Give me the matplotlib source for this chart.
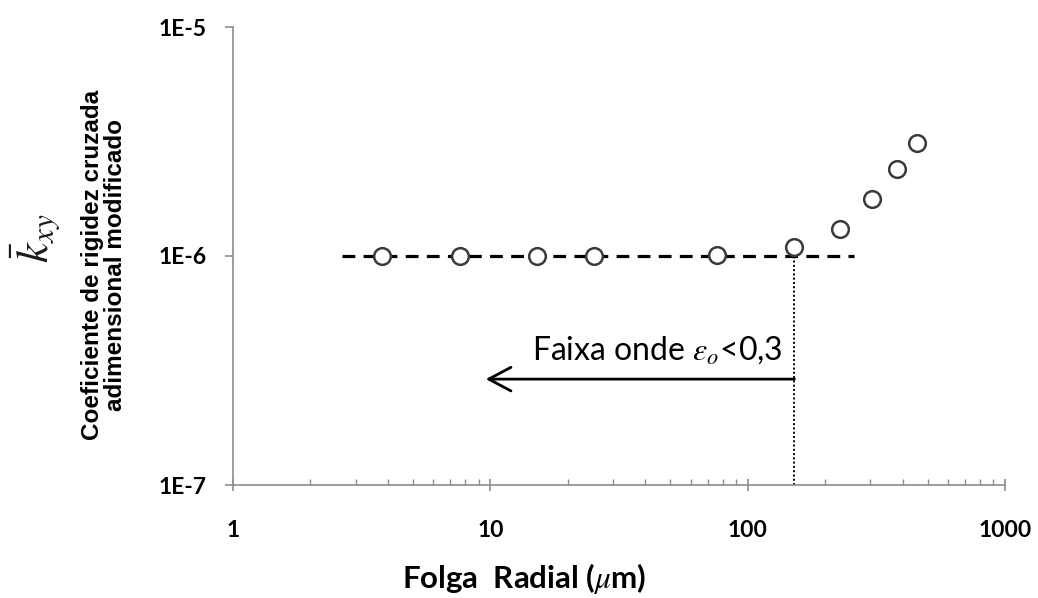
import matplotlib
matplotlib.use("Agg")
import matplotlib.pyplot as plt
from matplotlib.ticker import LogLocator, FixedLocator, NullFormatter

# Data
folga_um = [3.8, 7.6, 15.2, 25.3, 76, 152, 228, 304, 380, 456]
kxy = [1.0e-6, 1.0e-6, 1.0e-6, 1.0e-6, 1.01e-6, 1.1e-6, 1.31e-6, 1.77e-6, 2.4e-6, 3.1e-6]
trend_x = [2.65, 260]
trend_y = [1.0e-6, 1.0e-6]
limite_x = 152
arrow_y = 2.9e-7
arrow_end_x = 9.6
x_ticks = [1, 10, 100, 1000]
x_ticklabels = ["1", "10", "100", "1000"]
y_ticks = [1e-7, 1e-6, 1e-5]
y_ticklabels = ["1E-7", "1E-6", "1E-5"]

fig = plt.figure(figsize=(10.38, 5.98), dpi=100)
ax = fig.add_axes([233/1038, 1-485/598, (1005-233)/1038, (485-27)/598])
ax.set_xscale("log")
ax.set_yscale("log")
ax.set_xlim(1, 1000)
ax.set_ylim(1e-7, 1e-5)

ax.plot(trend_x, trend_y, linestyle=(0, (4, 2.6)), color="black", lw=2.3, zorder=2)
ax.plot(folga_um, kxy, linestyle="none", marker="o", ms=12, mfc="white",
        mec="#3a3a3a", mew=1.8, zorder=3)
ax.plot([limite_x, limite_x], [1e-7, 1e-6], linestyle=(0, (1, 1.2)), color="black", lw=1.4, zorder=1)
ax.annotate("", xy=(arrow_end_x, arrow_y), xytext=(limite_x, arrow_y),
            arrowprops=dict(arrowstyle="->,head_length=1.6,head_width=0.85", color="black", lw=2.0,
                            shrinkA=0, shrinkB=0))
ax.text(137, 3.9e-7, r"Faixa onde $\varepsilon_o$<0,3", ha="right", va="center",
        fontsize=23, family="Lato", color="black", math_fontfamily="stix")

for s in ["top", "right"]:
    ax.spines[s].set_visible(False)
for s in ["left", "bottom"]:
    ax.spines[s].set_color("#8c8c8c")
    ax.spines[s].set_linewidth(1.2)

ax.xaxis.set_major_locator(FixedLocator(x_ticks))
ax.set_xticklabels(x_ticklabels, fontfamily="Lato", fontweight="bold", fontsize=16.5)
ax.xaxis.set_minor_locator(LogLocator(base=10, subs=range(2, 10)))
ax.xaxis.set_minor_formatter(NullFormatter())
ax.yaxis.set_major_locator(FixedLocator(y_ticks))
ax.set_yticklabels(y_ticklabels, fontfamily="Lato", fontweight="bold", fontsize=16.5)
ax.yaxis.set_minor_locator(FixedLocator([]))

ax.tick_params(axis="x", which="major", direction="inout", length=9, width=1.2, color="#8c8c8c", pad=21)
ax.tick_params(axis="x", which="minor", direction="in", length=4, width=1.0, color="#8c8c8c")
ax.tick_params(axis="y", which="major", direction="out", length=6, width=1.2, color="#8c8c8c", pad=13)

fig.text(524/1038, 1-579/598, r"Folga  Radial ($\mu$m)", ha="center", va="center",
         fontsize=22.5, family="Lato", fontweight="bold", math_fontfamily="stix")
fig.text(104/1038, 1-265/598, "Coeficiente de rigidez cruzada\nadimensional modificado",
         rotation=90, ha="center", va="center", fontsize=17.5, family="Liberation Sans",
         fontweight="bold", linespacing=1.05)
fig.text(36/1038, 1-238/598, r"$\bar{k}_{xy}$", rotation=90, ha="center", va="center",
         fontsize=32, color="#1a1a1a", math_fontfamily="stix")

fig.savefig("out.png", dpi=100, facecolor="white")
